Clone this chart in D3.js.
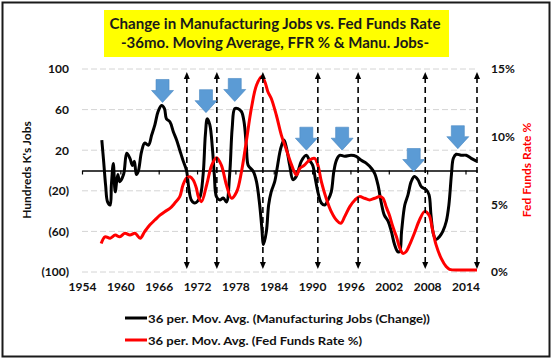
<!DOCTYPE html>
<html><head><meta charset="utf-8">
<script src="https://cdn.jsdelivr.net/npm/d3@7"></script>
<style>body{margin:0;background:#fff}svg{display:block;font-family:Lato,'Open Sans',sans-serif;font-weight:700}</style>
</head><body><svg id="c" width="554" height="364"></svg>
<script>
const titleLines=["Change in Manufacturing Jobs vs. Fed Funds Rate","-36mo. Moving Average, FFR % & Manu. Jobs-"];
const seriesNames=["36 per. Mov. Avg. (Manufacturing Jobs (Change))","36 per. Mov. Avg. (Fed Funds Rate %)"];
const leftTitle="Hundreds K's Jobs", rightTitle="Fed Funds Rate %";
const xTicks=[1954,1960,1966,1972,1978,1984,1990,1996,2002,2008,2014];
const leftTicks=[-100,-60,-20,20,60,100];
const rightTicks=[0,5,10,15];
const jobYears=[1957.1,1957.4,1957.7,1958.0,1958.4,1958.6,1958.9,1959.2,1959.6,1959.9,1960.5,1961.0,1961.5,1961.9,1962.2,1962.5,1962.8,1963.3,1963.8,1964.4,1964.9,1965.4,1965.9,1966.45,1966.9,1967.2,1967.75,1968.3,1968.8,1969.3,1969.8,1970.35,1970.7,1971.1,1971.65,1972.4,1972.95,1973.3,1973.6,1974.0,1974.4,1974.7,1975.05,1975.6,1976.1,1976.6,1977.1,1977.5,1977.9,1978.4,1978.95,1979.35,1979.7,1980.0,1980.4,1980.8,1981.3,1981.8,1982.1,1982.4,1982.85,1983.2,1983.6,1984.15,1984.6,1985.1,1985.6,1986.0,1986.5,1987.0,1987.5,1987.8,1988.3,1989.1,1989.6,1990.1,1990.5,1990.9,1991.45,1992.0,1992.5,1993.0,1993.4,1993.8,1994.3,1995.1,1996.1,1996.9,1997.7,1998.5,1999.3,1999.8,2000.3,2000.8,2001.3,2001.9,2002.4,2002.9,2003.4,2003.7,2004.0,2004.5,2005.0,2005.5,2006.0,2006.55,2007.1,2007.85,2008.3,2008.6,2009.0,2009.4,2009.95,2010.45,2011.0,2011.4,2011.8,2012.1,2012.55,2013.3,2014.1,2014.9,2015.8];
const jobValues=[30,8,-15,-31,-34,-14,7,-21,-4,-11,-4,17,12,5,9,-4,-1,18,27,25,35,45,58,64,61,51,48,38,30,20,10,0,-17,-29,-32,-27,-4,35,51,45,22,-4,-26,-29,-27,-31,-4,42,61,61,58,48,25,5,2,-1,-11,-34,-54,-73,-60,-34,-21,-11,5,22,30,22,5,-9,-6,-1,9,15,10,5,-8,-21,-32,-34,-29,-21,-1,10,15,14,15,14,10,7,2,-3,-14,-31,-44,-50,-60,-73,-80,-80,-60,-34,-24,-11,-6,-9,-16,-19,-24,-44,-63,-68,-65,-60,-50,-34,-4,12,16,15,15,12,9];
const ffrYears=[1957.0,1957.6,1958.4,1959.2,1959.9,1960.7,1961.5,1962.3,1963.1,1963.8,1964.6,1965.4,1966.2,1966.95,1967.75,1968.5,1969.3,1969.8,1970.35,1970.9,1971.4,1971.9,1972.2,1972.7,1973.5,1974.3,1975.05,1975.8,1976.6,1977.4,1978.2,1978.95,1979.7,1980.5,1981.3,1982.1,1982.6,1983.1,1983.6,1984.4,1985.2,1986.0,1986.8,1987.55,1988.1,1988.8,1989.6,1990.4,1990.9,1991.45,1992.2,1993.0,1993.8,1994.5,1995.1,1995.9,1996.7,1997.4,1998.2,1999.0,1999.8,2000.6,2001.1,2001.6,2002.1,2002.6,2003.2,2003.7,2004.2,2004.7,2005.25,2006.0,2006.8,2007.6,2008.3,2008.8,2009.4,2010.2,2011.0,2011.5,2013.0,2015.8];
const ffrValues=[2.1,2.6,2.5,2.73,2.6,2.86,2.73,2.86,2.5,2.98,3.47,3.84,4.2,4.46,4.7,5.08,5.57,6.43,6.93,7.04,6.8,6.19,5.57,5.2,6.43,7.9,8.45,7.9,6.43,5.45,5.93,7.41,9.63,12.1,13.8,14.43,14.07,13.3,12.84,11.6,10.1,9.0,7.9,7.17,7.66,7.9,8.28,8.4,7.9,6.67,5.45,4.46,3.84,3.6,4.09,4.83,5.32,5.57,5.45,5.32,5.45,5.57,5.45,4.8,4.2,3.4,2.6,1.8,1.38,1.5,2.0,2.86,3.84,4.46,4.2,3.23,2.0,1.01,0.39,0.2,0.15,0.15];
const cycleYears=[1970.4,1975.1,1982.3,1990.9,1997.2,2007.7,2015.8];
const peakYears=[1966.6,1973.4,1977.9,1989.1,1994.7,2005.9,2012.8];
const peakValues=[67,57,68,20,20,-1,21.5];

const svg=d3.select("#c");
const x=d3.scaleLinear().domain([1954,2015.8]).range([82,477]);
const yL=d3.scaleLinear().domain([-100,100]).range([272,69]);
const yR=d3.scaleLinear().domain([0,15]).range([272,69]);

svg.append("rect").attr("x",2.5).attr("y",2.5).attr("width",547).attr("height",354)
  .attr("fill","#fff").attr("stroke","#1a1a1a").attr("stroke-width",2);

svg.append("rect").attr("x",104).attr("y",10).attr("width",345).attr("height",47).attr("fill","#ffff00");
const tl=[[29,331],[48,308]];
titleLines.forEach((t,i)=>svg.append("text").attr("x",275).attr("y",tl[i][0]).attr("text-anchor","middle")
  .attr("font-size",16).attr("fill","#1a1a1a").attr("textLength",tl[i][1]).attr("lengthAdjust","spacingAndGlyphs").text(t));

svg.append("g").selectAll("line").data(leftTicks).join("line")
  .attr("x1",x.range()[0]).attr("x2",x.range()[1]).attr("y1",d=>yL(d)).attr("y2",d=>yL(d))
  .attr("stroke","#d4d4d4").attr("stroke-width",1).attr("stroke-dasharray","6,3");

const zAx=svg.append("g").attr("transform",`translate(0,${yL(0)})`)
  .call(d3.axisBottom(x).tickValues(xTicks).tickSize(4).tickSizeOuter(0).tickFormat(""));
zAx.select(".domain").attr("stroke","#000").attr("stroke-width",1.6);
zAx.selectAll(".tick line").attr("stroke","#000").attr("stroke-width",1.2);

const bAx=svg.append("g").attr("transform","translate(0,278)")
  .call(d3.axisBottom(x).tickValues(xTicks).tickSize(0).tickPadding(4).tickFormat(d3.format("d")));
bAx.select(".domain").remove();
bAx.selectAll("text").attr("font-size",12).attr("font-family","Lato,sans-serif").attr("font-weight",700).attr("fill","#111");

const lAx=svg.append("g").attr("transform","translate(69,0)")
  .call(d3.axisLeft(yL).tickValues(leftTicks).tickSize(0).tickPadding(0).tickFormat(d=>d<0?`(${-d})`:`${d}`));
lAx.select(".domain").remove();
lAx.selectAll("text").attr("font-size",12).attr("font-family","Lato,sans-serif").attr("font-weight",700).attr("fill","#111");

const rAx=svg.append("g").attr("transform","translate(491,0)")
  .call(d3.axisRight(yR).tickValues(rightTicks).tickSize(0).tickPadding(0).tickFormat(d=>d+"%"));
rAx.select(".domain").remove();
rAx.selectAll("text").attr("font-size",12).attr("font-family","Lato,sans-serif").attr("font-weight",700).attr("fill","#111");

svg.append("text").attr("transform","translate(31,170) rotate(-90)").attr("text-anchor","middle")
  .attr("font-size",12).attr("fill","#111").text(leftTitle);
svg.append("text").attr("transform","translate(531,170) rotate(-90)").attr("text-anchor","middle")
  .attr("font-size",12).attr("fill","#ff0000").text(rightTitle);

const jobData=jobYears.map((y,i)=>[y,jobValues[i]]);
const ffrData=ffrYears.map((y,i)=>[y,ffrValues[i]]);
svg.append("path").datum(jobData).attr("fill","none").attr("stroke","#000").attr("stroke-width",3)
  .attr("stroke-linejoin","round")
  .attr("d",d3.line().x(d=>x(d[0])).y(d=>yL(d[1])).curve(d3.curveCatmullRom.alpha(0.5)));
svg.append("path").datum(ffrData).attr("fill","none").attr("stroke","#ff0000").attr("stroke-width",3)
  .attr("stroke-linejoin","round")
  .attr("d",d3.line().x(d=>x(d[0])).y(d=>yR(d[1])).curve(d3.curveCatmullRom.alpha(0.5)));

const aTop=72, aBot=269;
const ca=svg.append("g");
cycleYears.forEach(yr=>{
  const cx=x(yr);
  ca.append("line").attr("x1",cx).attr("x2",cx).attr("y1",aTop+5).attr("y2",aBot-5)
    .attr("stroke","#000").attr("stroke-width",1.6).attr("stroke-dasharray","6,4");
  ca.append("path").attr("d",`M${cx},${aTop} L${cx-3},${aTop+7} L${cx+3},${aTop+7}Z`).attr("fill","#000");
  ca.append("path").attr("d",`M${cx},${aBot} L${cx-3},${aBot-7} L${cx+3},${aBot-7}Z`).attr("fill","#000");
});

const ba=svg.append("g");
peakYears.forEach((yr,i)=>{
  const cx=x(yr), tip=yL(peakValues[i]);
  const h=23, hh=12, hw=11, sw=6.5;
  const t=tip-h, m=tip-hh;
  ba.append("path").attr("d",`M${cx-sw},${t} L${cx+sw},${t} L${cx+sw},${m} L${cx+hw},${m} L${cx},${tip} L${cx-hw},${m} L${cx-sw},${m}Z`)
    .attr("fill","#5b9bd5").attr("stroke","#4a88c2").attr("stroke-width",0.6);
});

const lg=svg.append("g");
[["#000",318,282],["#ff0000",340,214]].forEach((s,i)=>{
  lg.append("line").attr("x1",125).attr("x2",147).attr("y1",s[1]).attr("y2",s[1]).attr("stroke",s[0]).attr("stroke-width",3);
  lg.append("text").attr("x",148).attr("y",s[1]+4.5).attr("font-size",12).attr("fill","#111")
    .attr("textLength",s[2]).attr("lengthAdjust","spacingAndGlyphs").text(seriesNames[i]);
});
</script></body></html>
